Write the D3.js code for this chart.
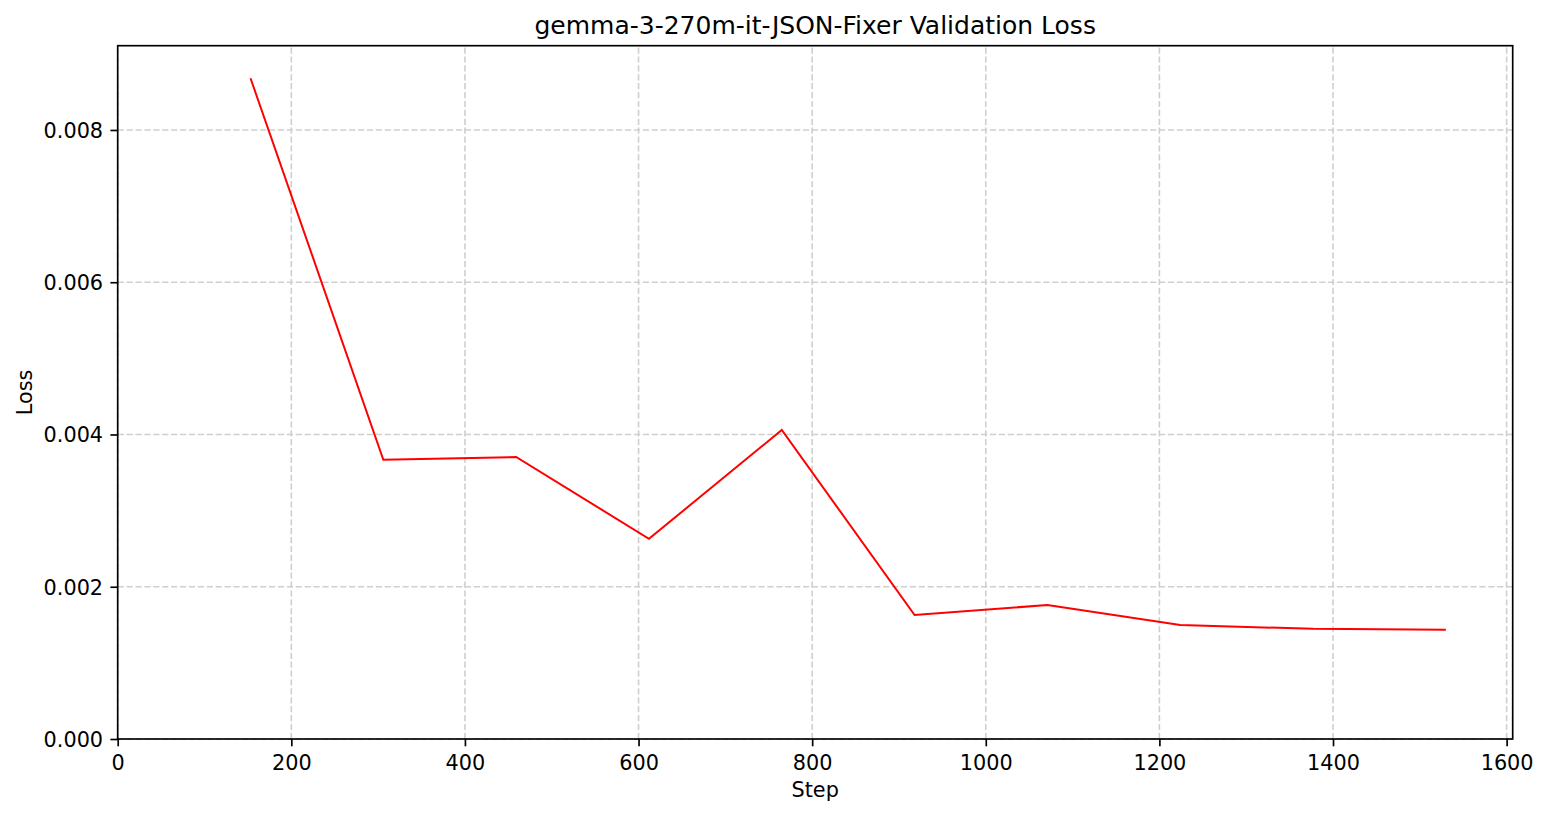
<!DOCTYPE html>
<html>
<head>
<meta charset="utf-8">
<script src="https://cdn.jsdelivr.net/npm/d3@7"></script>
<style>
  body { margin: 0; background: #fff; }
  svg text { font-family: "DejaVu Sans", sans-serif; fill: #000; }
</style>
</head>
<body>
<div id="chart"></div>
<script>
//data
var steps = [153, 306, 459, 612, 765, 918, 1071, 1224, 1377, 1530];
var losses = [0.00868, 0.003668, 0.003704, 0.00263, 0.004059, 0.001629, 0.00176, 0.001498, 0.001447, 0.001436];
var xTicks = [0, 200, 400, 600, 800, 1000, 1200, 1400, 1600];
var yTicks = [0, 0.002, 0.004, 0.006, 0.008];
var xDomain = [0, 1607];
var yDomain = [0, 0.009107];

var width = 1548, height = 817;
var margin = {top: 45.7, right: 1548 - 1512.7, bottom: 817 - 739, left: 117.7};

var svg = d3.select('#chart').append('svg')
  .attr('width', width)
  .attr('height', height);

var x = d3.scaleLinear().domain(xDomain).range([margin.left, width - margin.right]);
var y = d3.scaleLinear().domain(yDomain).range([height - margin.bottom, margin.top]);

//grid lines
var grid = svg.append('g').attr('class', 'grid');
grid.selectAll('.vgrid')
  .data(xTicks)
  .enter().append('line')
  .attr('x1', function(d) { return x(d); })
  .attr('x2', function(d) { return x(d); })
  .attr('y1', y.range()[0])
  .attr('y2', y.range()[1]);
grid.selectAll('.hgrid')
  .data(yTicks)
  .enter().append('line')
  .attr('x1', x.range()[0])
  .attr('x2', x.range()[1])
  .attr('y1', function(d) { return y(d); })
  .attr('y2', function(d) { return y(d); });
grid.selectAll('line')
  .attr('stroke', '#cfcfcf')
  .attr('stroke-width', 1.6)
  .attr('stroke-dasharray', '6.2,2.7');

//loss line
var line = d3.line()
  .x(function(d, i) { return x(steps[i]); })
  .y(function(d) { return y(d); });

svg.append('path')
  .datum(losses)
  .attr('fill', 'none')
  .attr('stroke', '#ff0000')
  .attr('stroke-width', 2)
  .attr('stroke-linejoin', 'miter')
  .attr('d', line);

//axes
var xAxis = d3.axisBottom(x)
  .tickValues(xTicks)
  .tickFormat(d3.format('d'))
  .tickSize(7.3)
  .tickPadding(7.3);
var yAxis = d3.axisLeft(y)
  .tickValues(yTicks)
  .tickFormat(d3.format('.3f'))
  .tickSize(7.3)
  .tickPadding(7.3);

var gx = svg.append('g')
  .attr('transform', 'translate(0,' + y.range()[0] + ')')
  .call(xAxis);
var gy = svg.append('g')
  .attr('transform', 'translate(' + x.range()[0] + ',0)')
  .call(yAxis);

[gx, gy].forEach(function(g) {
  g.select('.domain').remove();
  g.selectAll('.tick line').attr('stroke', '#000').attr('stroke-width', 1.67);
  g.selectAll('.tick text')
    .attr('font-size', '20.8px')
    .attr('font-family', '"DejaVu Sans", sans-serif')
    .attr('fill', '#000');
});
gx.selectAll('.tick text').attr('dy', null).attr('y', 31);
gy.selectAll('.tick text').attr('dy', '0.35em');

//frame
svg.append('rect')
  .attr('x', x.range()[0])
  .attr('y', y.range()[1])
  .attr('width', x.range()[1] - x.range()[0])
  .attr('height', y.range()[0] - y.range()[1])
  .attr('fill', 'none')
  .attr('stroke', '#000')
  .attr('stroke-width', 1.67);

//titles
var cx = (x.range()[0] + x.range()[1]) / 2;
var cy = (y.range()[0] + y.range()[1]) / 2;

svg.append('text')
  .attr('x', cx)
  .attr('y', 34)
  .attr('text-anchor', 'middle')
  .attr('font-size', '25px')
  .text('gemma-3-270m-it-JSON-Fixer Validation Loss');

svg.append('text')
  .attr('x', cx)
  .attr('y', 797)
  .attr('text-anchor', 'middle')
  .attr('font-size', '20.8px')
  .text('Step');

svg.append('text')
  .attr('transform', 'translate(32,' + cy + ') rotate(-90)')
  .attr('text-anchor', 'middle')
  .attr('font-size', '20.8px')
  .text('Loss');
</script>
</body>
</html>
